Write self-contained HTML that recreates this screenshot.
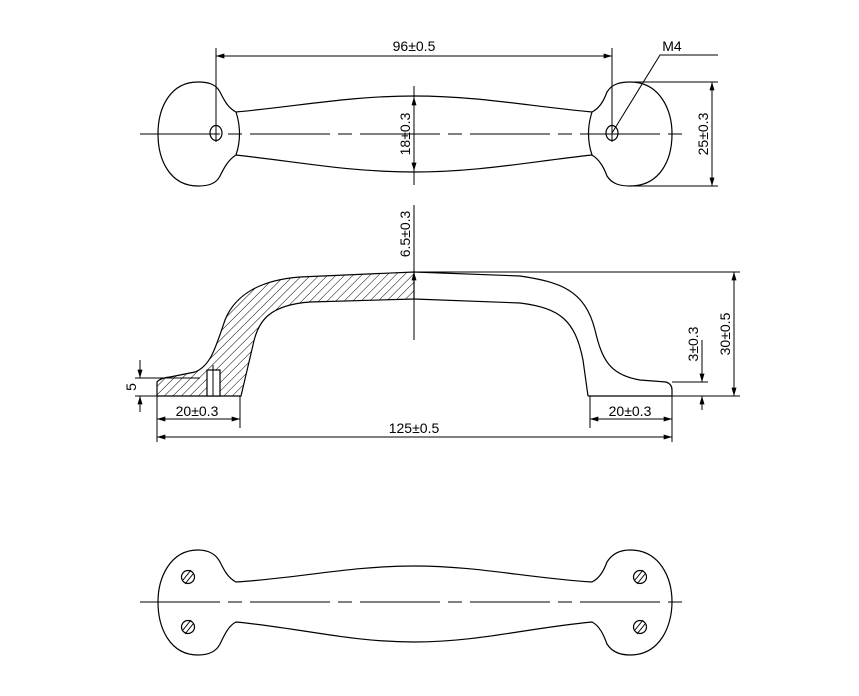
<!DOCTYPE html>
<html><head><meta charset="utf-8"><style>
html,body{margin:0;padding:0;background:#fff;}
svg{display:block;}
text{font-family:"Liberation Sans",sans-serif;font-size:14px;fill:#000;}
</style></head><body>
<svg width="859" height="696" viewBox="0 0 859 696" xmlns="http://www.w3.org/2000/svg">
<defs>
<marker id="a" viewBox="0 0 10 6" refX="10" refY="3" markerWidth="9" markerHeight="5" orient="auto-start-reverse" markerUnits="userSpaceOnUse"><path d="M0,0 L10,3 L0,6 Z" fill="#000"/></marker>
<pattern id="h" width="6" height="6" patternUnits="userSpaceOnUse" patternTransform="rotate(45)"><line x1="0" y1="0" x2="0" y2="6" stroke="#000" stroke-width="1"/></pattern>
</defs>
<g fill="none" stroke="#000" stroke-width="1.2">
<path d="M236,112 C300,106 350,96 414,96 C478,96 528,106 592,112 C600,108 604,100 607,92 C612,84 620,82 630,82 C660,82 672,110 672,134 C672,160 660,186 630,186 C620,186 612,184 607,176 C604,168 600,160 592,155 C528,162 478,172 414,172 C350,172 300,162 236,155 C228,160 224,168 220,176 C216,184 208,186 198,186 C170,186 158,160 158,134 C158,108 170,82 198,82 C208,82 216,84 220,92 C224,100 228,108 236,112 Z"/>
<path d="M236,112 Q243,134 236,155 M592,112 Q585,134 592,155"/>
<ellipse cx="216" cy="133" rx="6" ry="7.5"/>
<ellipse cx="612" cy="133" rx="6" ry="7.5"/>
</g>
<g stroke="#000" stroke-width="1" fill="none">
<line x1="140" y1="134" x2="685" y2="134" stroke-dasharray="80,8,14,8"/>
<line x1="414" y1="86" x2="414" y2="185"/>
<line x1="216" y1="48" x2="216" y2="142"/>
<line x1="612" y1="48" x2="612" y2="142"/>
<line x1="216" y1="56" x2="612" y2="56" marker-start="url(#a)" marker-end="url(#a)"/>
<line x1="414" y1="97" x2="414" y2="171" marker-start="url(#a)" marker-end="url(#a)"/>
<line x1="628" y1="82" x2="718" y2="82"/>
<line x1="628" y1="186" x2="718" y2="186"/>
<line x1="712" y1="82" x2="712" y2="186" marker-start="url(#a)" marker-end="url(#a)"/>
<polyline points="612,133 660,55 718,55"/>
</g>
<text x="414" y="51" text-anchor="middle">96±0.5</text>
<text x="672" y="51" text-anchor="middle">M4</text>
<text transform="translate(410,134) rotate(-90)" text-anchor="middle">18±0.3</text>
<text transform="translate(708,134) rotate(-90)" text-anchor="middle">25±0.3</text>

<path d="M157,396 L157,382 Q160,378 170,377 L195,372 C210,366 215,350 225,320 C235,295 260,280 300,277 L414,272 L414,299 L310,302 C270,305 258,320 253,345 L241,396 Z" fill="url(#h)" stroke="#000" stroke-width="1.2"/>
<rect x="207" y="370" width="13" height="26" fill="#fff" stroke="#000" stroke-width="1.2"/>
<g fill="none" stroke="#000" stroke-width="1.2">
<path d="M414,272 L520,276 C560,282 585,290 595,330 C602,360 610,375 640,380 L666,382 Q672,384 672,390 L672,396"/>
<path d="M414,299 L520,303 C560,308 575,320 583,360 L588,396"/>
<line x1="588" y1="396" x2="672" y2="396"/>
</g>
<g stroke="#000" stroke-width="1" fill="none">
<line x1="213" y1="365" x2="213" y2="396"/>
<line x1="414" y1="205" x2="414" y2="340"/>
<line x1="414" y1="299" x2="414" y2="272" marker-end="url(#a)"/>
<line x1="414" y1="272" x2="740" y2="272"/>
<line x1="672" y1="396" x2="740" y2="396"/>
<line x1="734" y1="272" x2="734" y2="396" marker-start="url(#a)" marker-end="url(#a)"/>
<line x1="672" y1="382" x2="708" y2="382"/>
<line x1="702" y1="340" x2="702" y2="382" marker-end="url(#a)"/>
<line x1="702" y1="410" x2="702" y2="396" marker-end="url(#a)"/>
<line x1="135" y1="378" x2="200" y2="378"/>
<line x1="135" y1="396" x2="157" y2="396"/>
<line x1="140" y1="360" x2="140" y2="378" marker-end="url(#a)"/>
<line x1="140" y1="412" x2="140" y2="396" marker-end="url(#a)"/>
<line x1="157" y1="396" x2="157" y2="442"/>
<line x1="240" y1="396" x2="240" y2="428"/>
<line x1="590" y1="396" x2="590" y2="428"/>
<line x1="672" y1="396" x2="672" y2="442"/>
<line x1="157" y1="419" x2="240" y2="419" marker-start="url(#a)" marker-end="url(#a)"/>
<line x1="590" y1="419" x2="672" y2="419" marker-start="url(#a)" marker-end="url(#a)"/>
<line x1="157" y1="437" x2="672" y2="437" marker-start="url(#a)" marker-end="url(#a)"/>
</g>
<text transform="translate(410,234) rotate(-90)" text-anchor="middle">6.5±0.3</text>
<text transform="translate(730,334) rotate(-90)" text-anchor="middle">30±0.5</text>
<text transform="translate(698,344) rotate(-90)" text-anchor="middle">3±0.3</text>
<text transform="translate(136,387) rotate(-90)" text-anchor="middle">5</text>
<text x="197" y="416" text-anchor="middle">20±0.3</text>
<text x="630" y="416" text-anchor="middle">20±0.3</text>
<text x="414" y="433" text-anchor="middle">125±0.5</text>

<g fill="none" stroke="#000" stroke-width="1.2">
<path d="M236,582 C300,578 350,566 414,566 C478,566 528,578 592,582 C600,578 604,570 607,562 C612,554 620,550 630,550 C660,550 672,578 672,602 C672,626 660,655 630,655 C620,655 612,652 607,644 C604,636 600,626 592,622 C528,628 478,642 414,642 C350,642 300,628 236,622 C228,626 224,636 220,644 C216,652 208,655 198,655 C170,655 158,628 158,602 C158,578 170,550 198,550 C208,550 216,554 220,562 C224,570 228,578 236,582 Z"/>
<circle cx="188" cy="577" r="6.5"/><circle cx="188" cy="627" r="6.5"/>
<circle cx="640" cy="577" r="6.5"/><circle cx="640" cy="627" r="6.5"/>
<path d="M183,580 L191,570 M185,584 L193,574 M183,630 L191,620 M185,634 L193,624 M635,580 L643,570 M637,584 L645,574 M635,630 L643,620 M637,634 L645,624" stroke-width="1"/>
</g>
<line x1="140" y1="602" x2="690" y2="602" stroke="#000" stroke-width="1" stroke-dasharray="80,8,14,8"/>
</svg>
</body></html>
